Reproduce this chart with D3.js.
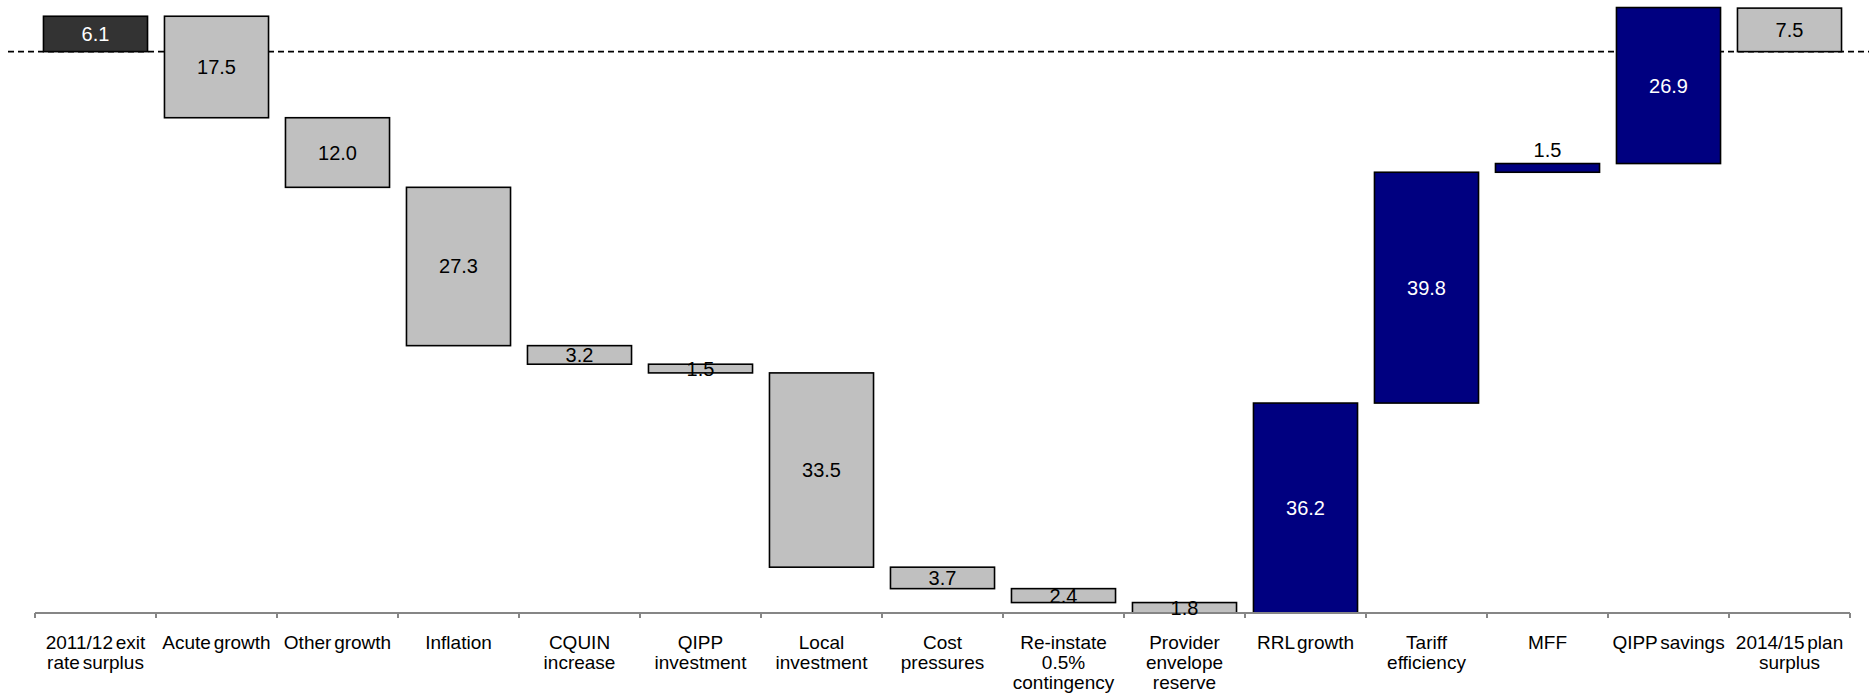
<!DOCTYPE html>
<html>
<head>
<meta charset="utf-8">
<script src="https://cdn.jsdelivr.net/npm/d3@7"></script>
<style>
  html, body { margin: 0; padding: 0; background: #ffffff; }
  svg { display: block; }
  text { font-family: "Liberation Sans", Arial, sans-serif; }
</style>
</head>
<body>
<svg id="chart" width="1869" height="694"></svg>
<script>
// Category labels, one array entry per wrapped line
const categories = [
  ["2011/12 exit", "rate surplus"],
  ["Acute growth"],
  ["Other growth"],
  ["Inflation"],
  ["CQUIN", "increase"],
  ["QIPP", "investment"],
  ["Local", "investment"],
  ["Cost", "pressures"],
  ["Re-instate", "0.5%", "contingency"],
  ["Provider", "envelope", "reserve"],
  ["RRL growth"],
  ["Tariff", "efficiency"],
  ["MFF"],
  ["QIPP savings"],
  ["2014/15 plan", "surplus"]
];

// Movement for each step (£m); first and last are totals
const values = [6.1, -17.5, -12.0, -27.3, -3.2, -1.5, -33.5, -3.7, -2.4, -1.8, 36.2, 39.8, 1.5, 26.9, 7.5];
const kinds  = ["start", "change", "change", "change", "change", "change", "change", "change", "change", "change",
                "change", "change", "change", "change", "end"];

const fills = { start: "#333333", down: "#c0c0c0", up: "#000080", end: "#c0c0c0" };
const labelColors = { start: "#ffffff", down: "#000000", up: "#ffffff", end: "#000000" };

// Build the floating segments of the waterfall
let running = 0;
const bars = values.map((v, i) => {
  const key = categories[i].join(" ");
  let lo, hi, kind;
  if (kinds[i] === "start") {
    lo = 0; hi = v; running = v; kind = "start";
  } else if (kinds[i] === "end") {
    lo = 0; hi = v; kind = "end";
  } else {
    const next = running + v;
    lo = Math.min(running, next); hi = Math.max(running, next);
    kind = v < 0 ? "down" : "up";
    running = next;
  }
  return { key, value: v, lo, hi, kind };
});

const lowest = d3.min(bars, d => d.lo);

const svg = d3.select("#chart");

const x = d3.scaleBand()
  .domain(bars.map(d => d.key))
  .range([35, 1850])
  .paddingInner(0.14)
  .paddingOuter(0.07);

const y = d3.scaleLinear()
  .domain([lowest, 8.9])
  .range([613, 0]);

// Zero reference line
svg.append("line")
  .attr("x1", 8).attr("x2", 1869)
  .attr("y1", y(0)).attr("y2", y(0))
  .attr("stroke", "#000")
  .attr("stroke-width", 1.8)
  .attr("stroke-dasharray", "6,4");

// Bars
svg.append("g").selectAll("rect")
  .data(bars)
  .join("rect")
  .attr("x", d => x(d.key))
  .attr("width", x.bandwidth())
  .attr("y", d => y(d.hi))
  .attr("height", d => y(d.lo) - y(d.hi))
  .attr("fill", d => fills[d.kind])
  .attr("stroke", "#000")
  .attr("stroke-width", 1.6);

// Category axis along the bottom of the waterfall
const axis = svg.append("g")
  .attr("transform", `translate(0,${y(lowest)})`)
  .call(d3.axisBottom(x).tickSize(0).tickPadding(0).tickFormat(""));

axis.select(".domain")
  .attr("stroke", "#868686")
  .attr("stroke-width", 2)
  .attr("d", `M${x.range()[0]},0H${x.range()[1]}`);

// Tick marks on category boundaries
const step = x.step();
const boundaries = d3.range(bars.length + 1).map(i => x.range()[0] + i * step);
axis.selectAll(".boundary")
  .data(boundaries)
  .join("line")
  .attr("class", "boundary")
  .attr("x1", d => d).attr("x2", d => d)
  .attr("y1", 0).attr("y2", 5)
  .attr("stroke", "#868686")
  .attr("stroke-width", 2);

// Wrapped category labels
axis.selectAll(".tick text").remove();
axis.selectAll(".tick").each(function (key, i) {
  const t = d3.select(this).append("text")
    .attr("text-anchor", "middle")
    .attr("fill", "#000")
    .attr("font-size", 19)
    .attr("word-spacing", -2.5)
    .attr("y", 36);
  categories[i].forEach((line, j) => {
    t.append("tspan")
      .attr("x", 0)
      .attr("dy", j === 0 ? 0 : 20)
      .text(line);
  });
});

// Value labels: centred in the bar, or just above a very thin rising bar
svg.append("g").selectAll("text")
  .data(bars)
  .join("text")
  .attr("text-anchor", "middle")
  .attr("font-size", 20)
  .attr("x", d => x(d.key) + x.bandwidth() / 2)
  .attr("y", d => {
    const h = y(d.lo) - y(d.hi);
    if (d.kind === "up" && h < 15) return y(d.hi) - 7;
    return (y(d.lo) + y(d.hi)) / 2 + 7;
  })
  .attr("fill", d => {
    const h = y(d.lo) - y(d.hi);
    if (d.kind === "up" && h < 15) return "#000";
    return labelColors[d.kind];
  })
  .text(d => Math.abs(d.value).toFixed(1));
</script>
</body>
</html>
